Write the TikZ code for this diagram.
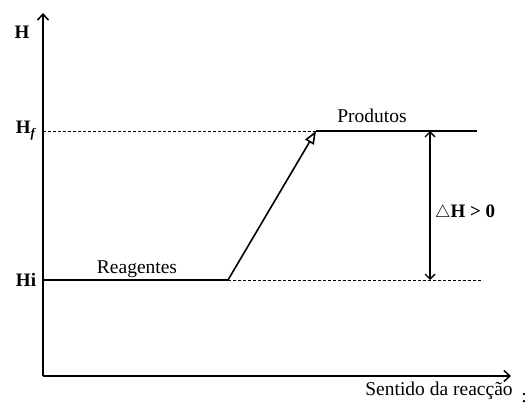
\documentclass[tikz,border=0pt]{standalone}
\usepackage{fontspec}
\setmainfont{Liberation Serif}
\usetikzlibrary{arrows.meta}
\begin{document}
\begin{tikzpicture}[x=1pt,y=-1pt,
  lbl/.style={font=\fontsize{19.5}{21}\selectfont, inner sep=0pt},
  blbl/.style={font=\fontsize{19}{21}\selectfont\bfseries, inner sep=0pt},
  axis/.style={line width=1.3pt, -{Straight Barb[length=6pt,width=11pt,line width=1.5pt]}},
  level/.style={line width=2pt},
  guide/.style={line width=0.6pt, dash pattern=on 3pt off 2pt}]
\useasboundingbox (0,0) rectangle (529,406);
\coordinate (O) at (43,376);
\coordinate (Ytop) at (43,13);
\coordinate (Xend) at (511,376);
\coordinate (Hf0) at (43,131);
\coordinate (Hi0) at (43,280);
\coordinate (R1) at (228,280);
\coordinate (P0) at (316,131);
\coordinate (P1) at (477,131);
\coordinate (Hiend) at (483,280);
\coordinate (Dtop) at (430,131);
\coordinate (Dbot) at (430,280);
\draw[axis] (O) -- (Ytop);
\draw[axis] (O) -- (Xend);
\draw[guide] (Hf0) -- (P0);
\draw[guide] (R1) -- (Hiend);
\draw[level] (Hi0) -- (R1);
\draw[level] (P0) -- (P1);
\draw[line width=1.6pt, -{Triangle[open,length=13pt,width=10pt,line width=1.6pt]}] (R1) -- (P0);
\draw[line width=1.1pt, {Straight Barb[length=5pt,width=10pt,line width=1.4pt]}-{Straight Barb[length=5pt,width=10pt,line width=1.4pt]}] (Dtop) -- (Dbot);
\node[blbl] (H) at (22,32) {H};
\node[blbl] (Hf) at (26,131) {H\raisebox{-4pt}{\fontsize{13}{13}\selectfont\textit{f}}};
\node[blbl] (Hi) at (26,280) {Hi};
\node[lbl] (reag) at (137,269) {Reagentes};
\node[lbl] (prod) at (372,116) {Produtos};
\node[lbl] (sent) at (439,391) {Sentido da reacção};
\node[lbl] (colon) at (524,398) {:};
\node[anchor=west, inner sep=0pt] (dh) at (435,213) {\fontsize{19}{21}\selectfont$\bigtriangleup$\textbf{H > 0}};
\end{tikzpicture}
\end{document}
